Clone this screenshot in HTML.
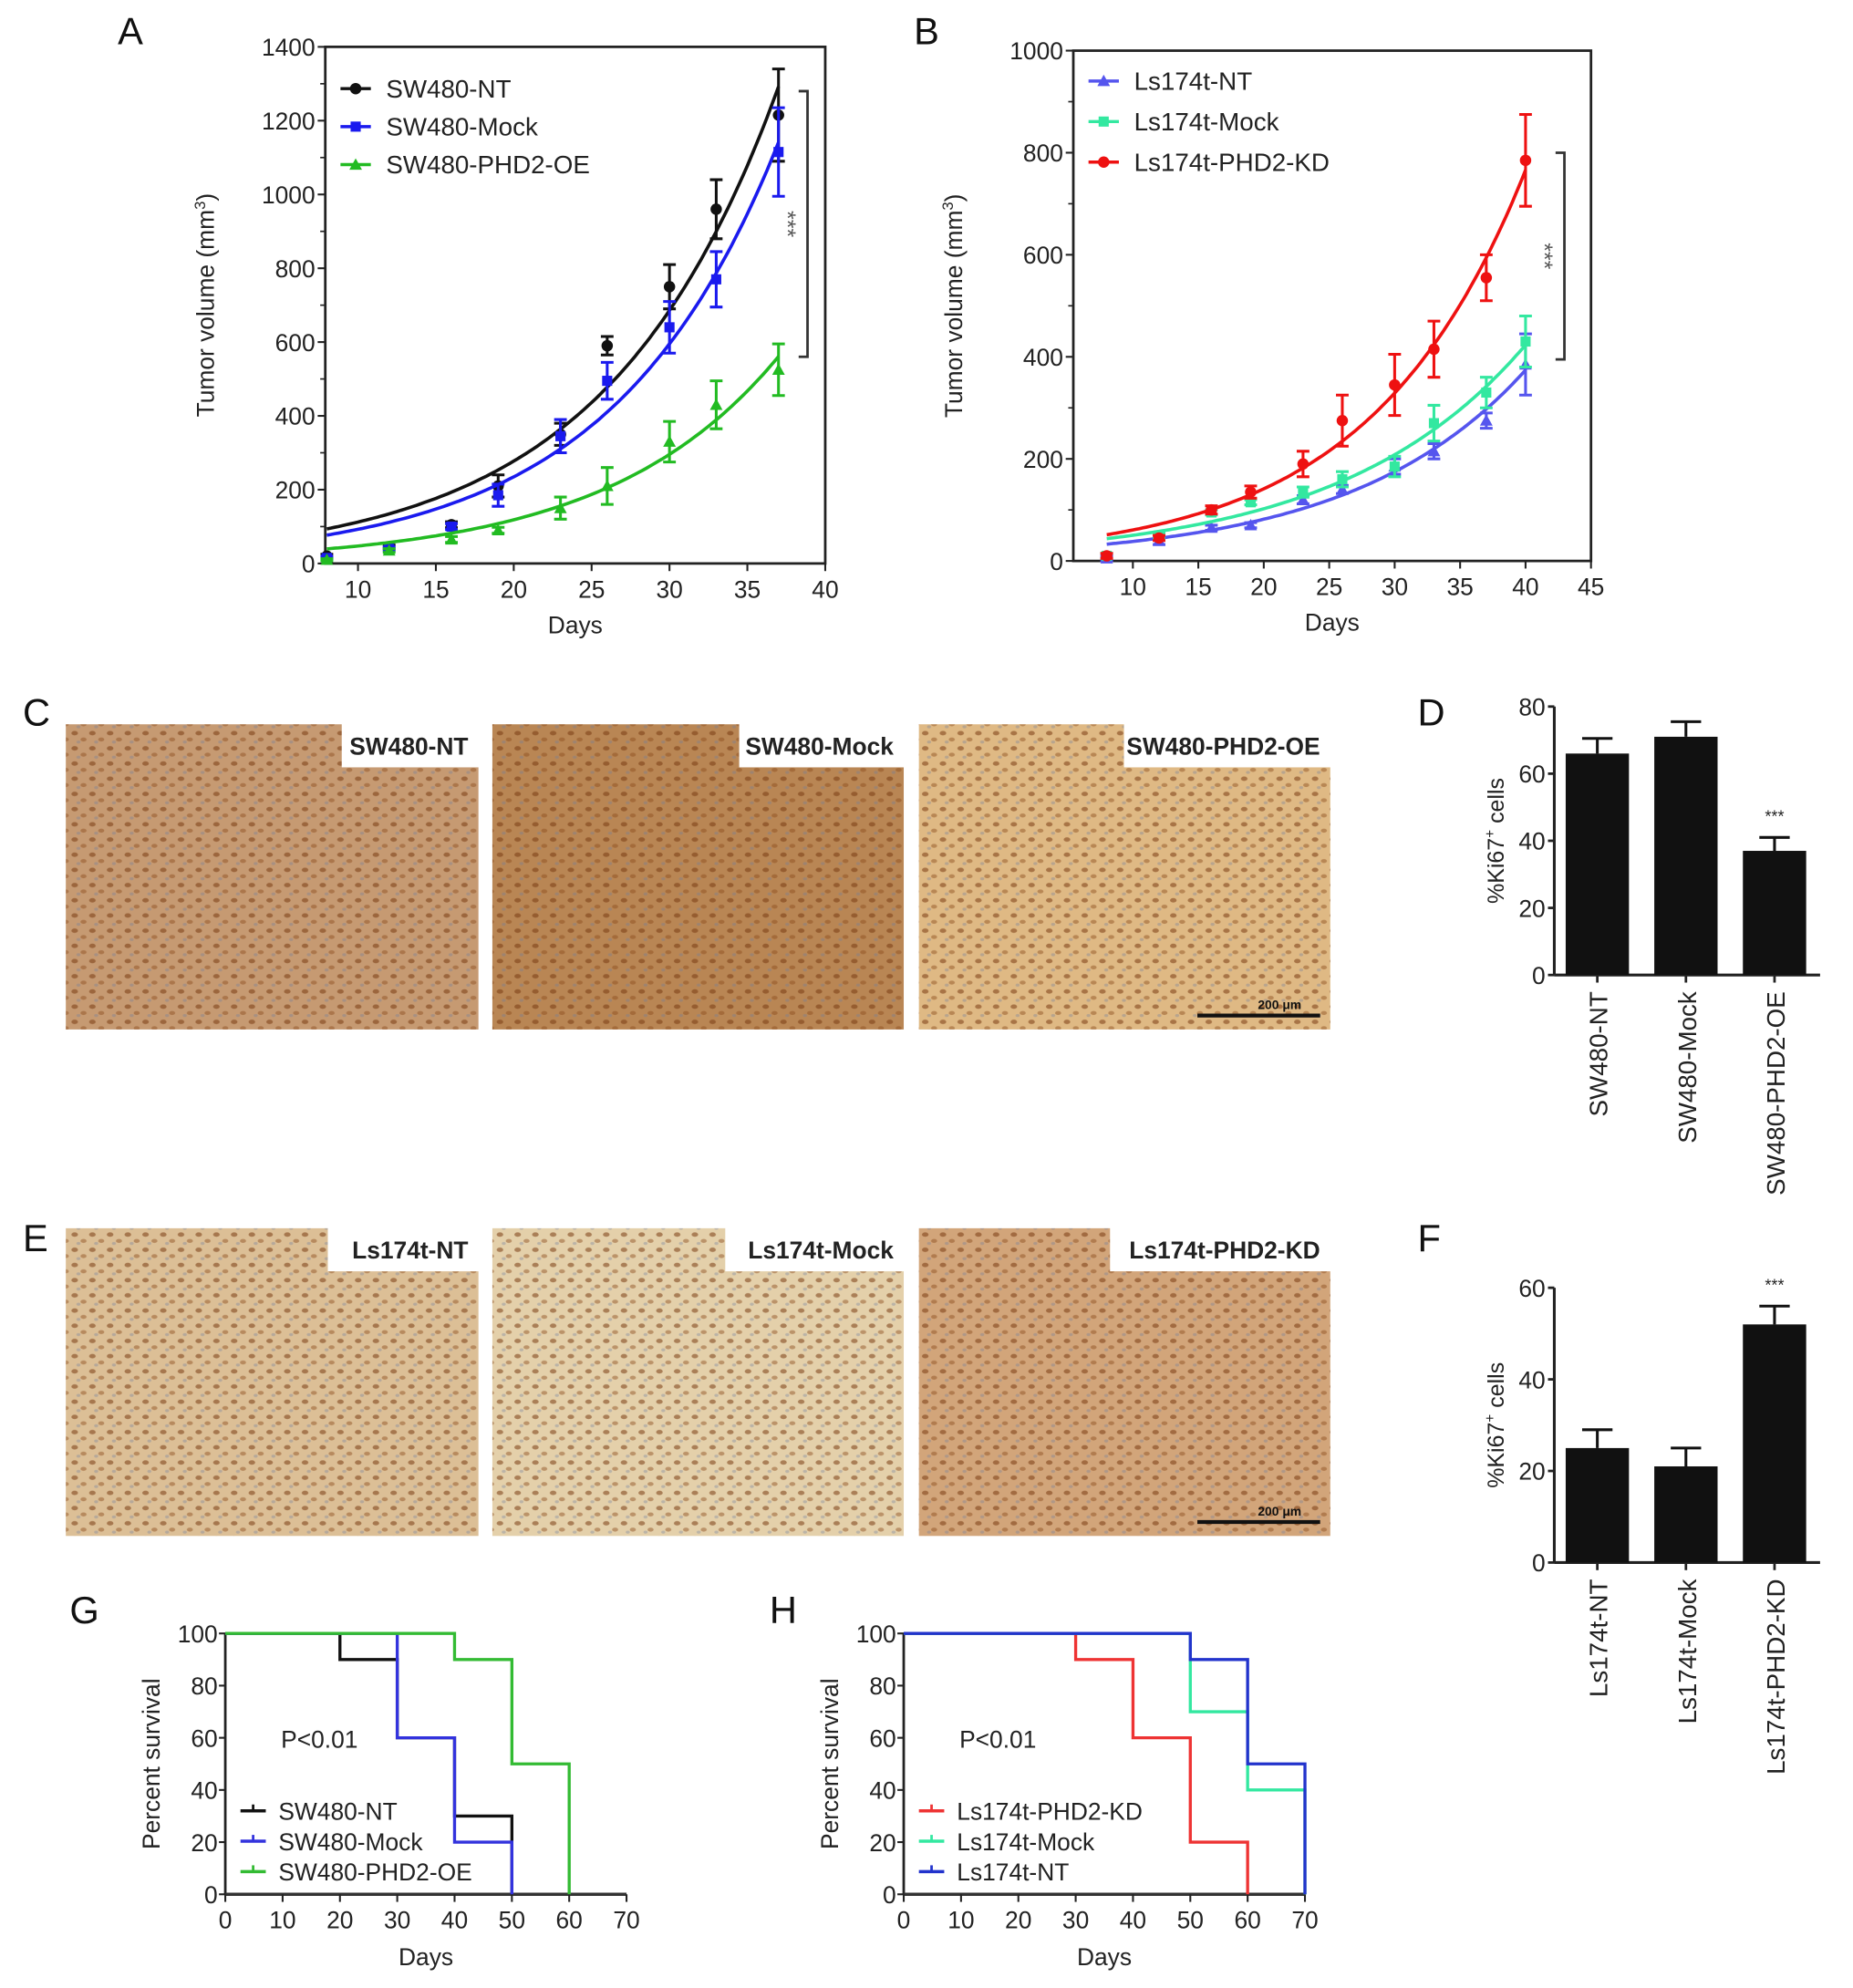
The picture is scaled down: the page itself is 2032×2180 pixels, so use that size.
<!DOCTYPE html>
<html><head><meta charset="utf-8">
<style>
html,body{margin:0;padding:0;background:#fff;}
svg{display:block;font-family:"Liberation Sans",Arial,sans-serif;}
</style></head>
<body>
<svg id="fig" width="2032" height="2180" viewBox="0 0 1464 1570" preserveAspectRatio="none" xmlns="http://www.w3.org/2000/svg">
<defs>
<pattern id="cells" width="14" height="12" patternUnits="userSpaceOnUse">
<ellipse cx="3" cy="3" rx="2.6" ry="1.8" fill="#7a3c12" opacity="0.55"/>
<ellipse cx="10" cy="8" rx="2.4" ry="1.6" fill="#8a4a1a" opacity="0.45"/>
<ellipse cx="6" cy="10" rx="1.6" ry="1.2" fill="#6d7fa0" opacity="0.35"/>
</pattern>
</defs>
<g id="root"></g>
</svg>
<script>
// ---------- Panel A data ----------
const daysA = [8,12,16,19,23,26,30,33,37];
const a_nt = [20,45,105,210,350,590,750,960,1215];
const a_nt_err = [5,5,8,30,30,25,60,80,125];
const a_mock = [15,40,100,185,345,495,640,770,1115];
const a_mock_err = [5,5,8,30,45,50,70,75,120];
const a_oe = [10,35,65,90,150,210,330,430,525];
const a_oe_err = [3,5,8,8,30,50,55,65,70];
const a_xticks = [10,15,20,25,30,35,40];
const a_yticks = [0,200,400,600,800,1000,1200,1400];
// ---------- Panel B data ----------
const daysB = [8,12,16,19,23,26,30,33,37,40];
const b_nt = [5,40,65,70,120,140,185,215,275,385];
const b_nt_err = [5,8,5,5,8,8,15,15,15,60];
const b_mock = [10,50,95,115,135,160,185,270,330,430];
const b_mock_err = [5,5,5,5,10,15,20,35,30,50];
const b_kd = [10,45,100,135,190,275,345,415,555,785];
const b_kd_err = [5,5,8,12,25,50,60,55,45,90];
const b_xticks = [10,15,20,25,30,35,40,45];
const b_yticks = [0,200,400,600,800,1000];
// ---------- Panel D / F data ----------
const d_cats = ["SW480-NT","SW480-Mock","SW480-PHD2-OE"];
const d_vals = [66,71,37];
const d_err = [4.5,4.5,4];
const d_yticks = [0,20,40,60,80];
const f_cats = ["Ls174t-NT","Ls174t-Mock","Ls174t-PHD2-KD"];
const f_vals = [25,21,52];
const f_err = [4,4,4];
const f_yticks = [0,20,40,60];
// ---------- Panel G / H survival data ----------
const surv_xticks = [0,10,20,30,40,50,60,70];
const surv_yticks = [0,20,40,60,80,100];
const g_nt_t = [0,20,30,40,50], g_nt_s = [100,90,60,30,0];
const g_mock_t = [0,30,40,50], g_mock_s = [100,60,20,0];
const g_oe_t = [0,40,50,60], g_oe_s = [100,90,50,0];
const h_kd_t = [0,30,40,50,60], h_kd_s = [100,90,60,20,0];
const h_mock_t = [0,50,60,70], h_mock_s = [100,70,40,0];
const h_nt_t = [0,50,60,70], h_nt_s = [100,90,50,0];

const NS="http://www.w3.org/2000/svg";
const root=document.getElementById('root');
function mk(tag,attrs,parent,text){const e=document.createElementNS(NS,tag);for(const k in attrs)e.setAttribute(k,attrs[k]);if(text!==undefined)e.textContent=text;(parent||root).appendChild(e);return e;}
function lin(d0,d1,r0,r1){return v=>r0+(v-d0)*(r1-r0)/(d1-d0);}
function fitExp(xs,ys){let best=null;for(let b=0.01;b<0.2;b+=0.0005){let num=0,den=0;xs.forEach((x,i)=>{const e=Math.exp(b*x);num+=ys[i]*e;den+=e*e;});const a=num/den;let sse=0;xs.forEach((x,i)=>{const r=ys[i]-a*Math.exp(b*x);sse+=r*r;});if(!best||sse<best.sse)best={a,b,sse};}return best;}

function letter(t,x,y){const e=mk('text',{x:x,y:y,'font-size':30,fill:'#111'},root,t);}

function marker(g,shape,x,y,c){
  let e;
  if(shape==='circle')e=mk('circle',{cx:x,cy:y,r:4.5,fill:c},g);
  else if(shape==='square')e=mk('rect',{x:x-4,y:y-4,width:8,height:8,fill:c},g);
  else e=mk('polygon',{points:`${x},${y-5} ${x+5},${y+4} ${x-5},${y+4}`,fill:c},g);
  return e;
}

function growthPanel(cfg){
  const g=mk('g',{});
  const X=lin(cfg.xd[0],cfg.xd[1],cfg.L,cfg.R), Y=lin(0,cfg.ymax,cfg.B,cfg.T);
  const fr=mk('rect',{x:cfg.L,y:cfg.T,width:cfg.R-cfg.L,height:cfg.B-cfg.T,fill:'none',stroke:'#222','stroke-width':2},g);
  
  cfg.xticks.forEach(t=>{mk('line',{x1:X(t),x2:X(t),y1:cfg.B,y2:cfg.B+6,stroke:'#222','stroke-width':1.5},g);
    const e=mk('text',{x:X(t),y:cfg.B+27,'font-size':19,'text-anchor':'middle',fill:'#222'},g,t);});
  cfg.yticks.forEach(t=>{mk('line',{x1:cfg.L-6,x2:cfg.L,y1:Y(t),y2:Y(t),stroke:'#222','stroke-width':1.5},g);
    const e=mk('text',{x:cfg.L-8,y:Y(t)+7,'font-size':19,'text-anchor':'end',fill:'#222'},g,t);});
  for(let i=0;i<cfg.yticks.length-1;i++){const m=(cfg.yticks[i]+cfg.yticks[i+1])/2;mk('line',{x1:cfg.L-4,x2:cfg.L,y1:Y(m),y2:Y(m),stroke:'#222','stroke-width':1.2},g);}
  const xt=mk('text',{x:(cfg.L+cfg.R)/2,y:cfg.B+55,'font-size':19,'text-anchor':'middle',fill:'#222'},g,'Days');
  const yt=mk('text',{transform:`translate(${cfg.L-88},${(cfg.T+cfg.B)/2}) rotate(-90)`,'font-size':19,'text-anchor':'middle',fill:'#222'},g);
  
  mk('tspan',{},yt,'Tumor volume (mm');mk('tspan',{dy:-7,'font-size':12},yt,'3');mk('tspan',{dy:7},yt,')');
  cfg.series.forEach((s,si)=>{
    const sg=mk('g',{},g);
    const f=fitExp(cfg.days,s.v);let d='';
    for(let x=cfg.days[0];x<=cfg.days[cfg.days.length-1]+0.001;x+=0.25){d+=(d?'L':'M')+X(x).toFixed(1)+','+Y(f.a*Math.exp(f.b*x)).toFixed(1);}
    const p=mk('path',{d:d,fill:'none',stroke:s.c,'stroke-width':2.6},sg);
    cfg.days.forEach((dd,i)=>{const x=X(dd),y0=Y(s.v[i]-s.e[i]),y1=Y(s.v[i]+s.e[i]);
      const eb=mk('path',{d:`M${x},${y0}V${y1}M${x-5},${y0}H${x+5}M${x-5},${y1}H${x+5}`,stroke:s.c,'stroke-width':2.2,fill:'none'},sg);
      const m=marker(sg,s.shape,x,Y(s.v[i]),s.c);});
    const ly=cfg.T+cfg.legTop+si*cfg.legGap, lx=cfg.L+12;
    const lg=mk('g',{},g);
    mk('line',{x1:lx,x2:lx+24,y1:ly,y2:ly,stroke:s.c,'stroke-width':2.5},lg);marker(lg,s.shape,lx+12,ly,s.c);
    mk('text',{x:lx+36,y:ly+7,'font-size':20,fill:'#222'},lg,s.label);
  });
  const br=cfg.bracket;const bx=cfg.R-cfg.bOff;
  const b=mk('path',{d:`M${bx-7},${Y(br[0])}H${bx}V${Y(br[1])}H${bx-7}`,stroke:'#333','stroke-width':2,fill:'none'},g);
  const st=mk('text',{transform:`translate(${bx-22},${(Y(br[0])+Y(br[1]))/2}) rotate(90)`,'font-size':18,'text-anchor':'middle',fill:'#555'},g,'***');
}

growthPanel({name:'panel-a-chart',L:257,R:652,T:37,B:445,xd:[7.9,40],ymax:1400,xticks:a_xticks,yticks:a_yticks,days:daysA,bracket:[1280,560],bOff:14,legTop:33,legGap:30,
 series:[{label:'SW480-NT',v:a_nt,e:a_nt_err,c:'#111',shape:'circle'},{label:'SW480-Mock',v:a_mock,e:a_mock_err,c:'#1a1aee',shape:'square'},{label:'SW480-PHD2-OE',v:a_oe,e:a_oe_err,c:'#22bb22',shape:'tri'}]});
growthPanel({name:'panel-b-chart',L:848,R:1257,T:40,B:443,xd:[5.45,45],ymax:1000,xticks:b_xticks,yticks:b_yticks,days:daysB,bracket:[800,395],bOff:21,legTop:24,legGap:32,
 series:[{label:'Ls174t-NT',v:b_nt,e:b_nt_err,c:'#5555ee',shape:'tri'},{label:'Ls174t-Mock',v:b_mock,e:b_mock_err,c:'#33e8a0',shape:'square'},{label:'Ls174t-PHD2-KD',v:b_kd,e:b_kd_err,c:'#ee1111',shape:'circle'}]});
letter('A',93,35);letter('B',722,35);letter('C',18,573);letter('D',1120,573);letter('E',18,988);letter('F',1120,988);letter('G',55,1282);letter('H',608,1282);

// Histology images
function histo(x,y,w,h,bg,label,name,scale){
  const g=mk('g',{});
  mk('rect',{x:x,y:y,width:w,height:h,fill:bg},g);
  mk('rect',{x:x,y:y,width:w,height:h,fill:'url(#cells)'},g);
  const lw=label.length*11+20;
  mk('rect',{x:x+w-lw,y:y-2,width:lw+2,height:36,fill:'#fff'},g);
  const t=mk('text',{x:x+w-8,y:y+24,'font-size':19,'font-weight':'bold','text-anchor':'end',fill:'#222'},g,label);
  if(scale){mk('line',{x1:x+w-105,x2:x+w-8,y1:y+h-11,y2:y+h-11,stroke:'#111','stroke-width':3},g);
    mk('text',{x:x+w-40,y:y+h-16,'font-size':10,'font-weight':'bold','text-anchor':'middle',fill:'#111'},g,'200 μm');}
}
histo(52,572,326,241,'#c69a72','SW480-NT','ihc-sw480-nt',false);
histo(389,572,325,241,'#b98654','SW480-Mock','ihc-sw480-mock',false);
histo(726,572,325,241,'#dfb984','SW480-PHD2-OE','ihc-sw480-phd2-oe',true);
histo(52,970,326,243,'#dcbf96','Ls174t-NT','ihc-ls174t-nt',false);
histo(389,970,325,243,'#e4d0aa','Ls174t-Mock','ihc-ls174t-mock',false);
histo(726,970,325,243,'#d2a57a','Ls174t-PHD2-KD','ihc-ls174t-phd2-kd',true);

// Bar charts
function barPanel(cfg){
  const g=mk('g',{});
  const Y=lin(0,cfg.ymax,cfg.B,cfg.T);
  mk('line',{x1:cfg.L,x2:cfg.L,y1:cfg.T,y2:cfg.B,stroke:'#222','stroke-width':2.2},g);
  mk('line',{x1:cfg.L,x2:cfg.L+210,y1:cfg.B,y2:cfg.B,stroke:'#222','stroke-width':2.2},g);
  cfg.yticks.forEach(t=>{mk('line',{x1:cfg.L-5,x2:cfg.L,y1:Y(t),y2:Y(t),stroke:'#222','stroke-width':2},g);
    const e=mk('text',{x:cfg.L-7,y:Y(t)+7,'font-size':19,'text-anchor':'end',fill:'#222'},g,t);});
  const yt=mk('text',{transform:`translate(${cfg.L-40},${(cfg.T+cfg.B)/2}) rotate(-90)`,'font-size':18,'text-anchor':'middle',fill:'#222'},g);
  
  mk('tspan',{},yt,'%Ki67');mk('tspan',{dy:-7,'font-size':11},yt,'+');mk('tspan',{dy:7},yt,' cells');
  cfg.cats.forEach((c,i)=>{const cx=cfg.L+34+i*70;
    const r=mk('rect',{x:cx-25,y:Y(cfg.vals[i]),width:50,height:cfg.B-Y(cfg.vals[i]),fill:'#111'},g);
    const ye=Y(cfg.vals[i]+cfg.err[i]);
    mk('path',{d:`M${cx},${Y(cfg.vals[i])}V${ye}M${cx-12},${ye}H${cx+12}`,stroke:'#111','stroke-width':2.2,fill:'none'},g);
    mk('line',{x1:cx,x2:cx,y1:cfg.B,y2:cfg.B+6,stroke:'#222','stroke-width':2},g);
    const t=mk('text',{transform:`translate(${cx+8},${cfg.B+13}) rotate(-90)`,'font-size':20,'text-anchor':'end',fill:'#222'},g,c);
    if(i===cfg.star){const s=mk('text',{x:cx,y:ye-12,'font-size':13,'text-anchor':'middle',fill:'#222'},g,'***');}
  });
}
barPanel({name:'panel-d-chart',L:1228,T:558,B:770,ymax:80,yticks:d_yticks,cats:d_cats,vals:d_vals,err:d_err,star:2});
barPanel({name:'panel-f-chart',L:1228,T:1017,B:1234,ymax:60,yticks:f_yticks,cats:f_cats,vals:f_vals,err:f_err,star:2});

// Survival
function survPanel(cfg){
  const g=mk('g',{});
  const X=lin(0,70,cfg.L,cfg.L+317),Y=lin(0,100,cfg.B,cfg.T);
  mk('line',{x1:cfg.L,x2:cfg.L,y1:cfg.T,y2:cfg.B,stroke:'#222','stroke-width':2},g);
  mk('line',{x1:cfg.L,x2:X(70),y1:cfg.B,y2:cfg.B,stroke:'#333','stroke-width':2.5},g);
  surv_xticks.forEach(t=>{mk('line',{x1:X(t),x2:X(t),y1:cfg.B,y2:cfg.B+6,stroke:'#222','stroke-width':1.5},g);
    const e=mk('text',{x:X(t),y:cfg.B+27,'font-size':19,'text-anchor':'middle',fill:'#222'},g,t);});
  surv_yticks.forEach(t=>{mk('line',{x1:cfg.L-5,x2:cfg.L,y1:Y(t),y2:Y(t),stroke:'#222','stroke-width':1.5},g);
    const e=mk('text',{x:cfg.L-6,y:Y(t)+7,'font-size':19,'text-anchor':'end',fill:'#222'},g,t);});
  const xt=mk('text',{x:X(35),y:cfg.B+56,'font-size':19,'text-anchor':'middle',fill:'#222'},g,'Days');
  const yt=mk('text',{transform:`translate(${cfg.L-52},${(cfg.T+cfg.B)/2}) rotate(-90)`,'font-size':19,'text-anchor':'middle',fill:'#222'},g,'Percent survival');
  const pv=mk('text',{x:cfg.L+44,y:Y(60)+8,'font-size':19,fill:'#222'},g,'P<0.01');
  cfg.series.forEach((s,si)=>{let d=`M${X(s.t[0])},${Y(s.s[0])}`;
    for(let i=1;i<s.t.length;i++){d+=`H${X(s.t[i])}V${Y(s.s[i])}`;}
    const p=mk('path',{d:d,fill:'none',stroke:s.c,'stroke-width':2.4},g);
    const ly=Y(cfg.legY)+si*24;const lg=mk('g',{},g);
    mk('line',{x1:cfg.L+12,x2:cfg.L+32,y1:ly,y2:ly,stroke:s.c,'stroke-width':2.5},lg);
    mk('line',{x1:cfg.L+22,x2:cfg.L+22,y1:ly-5,y2:ly,stroke:s.c,'stroke-width':2},lg);
    mk('text',{x:cfg.L+42,y:ly+7,'font-size':19,fill:'#222'},lg,s.label);
  });
}
survPanel({name:'panel-g-chart',L:178,T:1290,B:1496,legY:32,series:[{label:'SW480-NT',t:g_nt_t,s:g_nt_s,c:'#111'},{label:'SW480-Mock',t:g_mock_t,s:g_mock_s,c:'#3333dd'},{label:'SW480-PHD2-OE',t:g_oe_t,s:g_oe_s,c:'#33bb33'}]});
survPanel({name:'panel-h-chart',L:714,T:1290,B:1496,legY:32,series:[{label:'Ls174t-PHD2-KD',t:h_kd_t,s:h_kd_s,c:'#ee3333'},{label:'Ls174t-Mock',t:h_mock_t,s:h_mock_s,c:'#33e8a0'},{label:'Ls174t-NT',t:h_nt_t,s:h_nt_s,c:'#2233cc'}]});
</script>
</body></html>
